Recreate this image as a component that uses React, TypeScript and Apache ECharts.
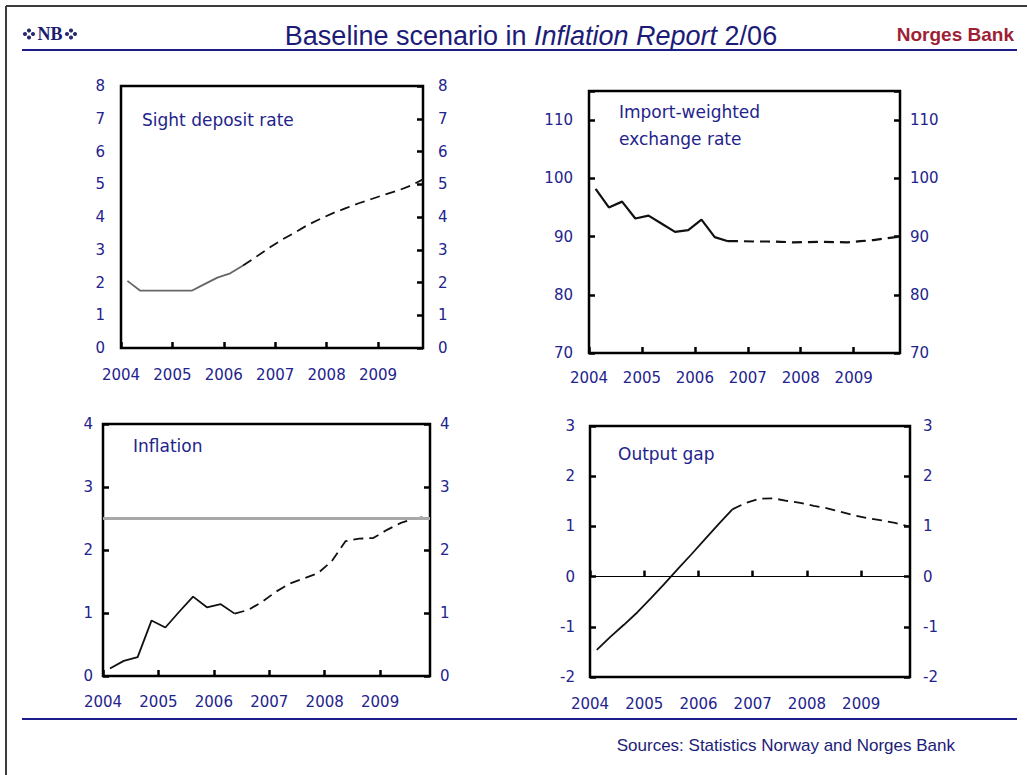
import React, { useEffect, useRef } from 'react';
import * as echarts from 'echarts';

// Quarterly observation dates (mid-quarter), 2004Q1 .. 2009Q4
const quarterDates = [
  2004.125, 2004.375, 2004.625, 2004.875,
  2005.125, 2005.375, 2005.625, 2005.875,
  2006.125, 2006.375, 2006.625, 2006.875,
  2007.125, 2007.375, 2007.625, 2007.875,
  2008.125, 2008.375, 2008.625, 2008.875,
  2009.125, 2009.375, 2009.625, 2009.875,
];

const sightDepositRate = [
  2.05, 1.75, 1.75, 1.75, 1.75, 1.75, 1.95, 2.15, 2.28, 2.52, 2.78, 3.05,
  3.3, 3.52, 3.75, 3.94, 4.12, 4.27, 4.42, 4.55, 4.68, 4.8, 4.95, 5.15,
];
const sightLastActual = 9;

const exchangeRate = [
  98.2, 95.0, 96.0, 93.1, 93.6, 92.2, 90.8, 91.1, 92.9, 89.9, 89.2, 89.2,
  89.15, 89.15, 89.1, 89.0, 89.05, 89.1, 89.05, 89.0, 89.2, 89.4, 89.7, 90.0,
];
const exchangeLastActual = 10;

const inflation = [
  0.12, 0.24, 0.3, 0.88, 0.77, 1.02, 1.26, 1.09, 1.14, 0.99, 1.05, 1.18,
  1.34, 1.47, 1.55, 1.63, 1.82, 2.14, 2.18, 2.19, 2.32, 2.43, 2.5, 2.53,
];
const inflationLastActual = 9;
const inflationTarget = 2.5;

const outputGap = [
  -1.46, -1.2, -0.96, -0.71, -0.43, -0.14, 0.16, 0.45, 0.75, 1.05, 1.34, 1.47,
  1.55, 1.56, 1.51, 1.47, 1.41, 1.36, 1.29, 1.22, 1.16, 1.12, 1.07, 1.0,
];
const outputGapLastActual = 10;

const panelTitles = ['Sight deposit rate', 'Import-weighted\nexchange rate', 'Inflation', 'Output gap'];
const yRanges = [
  { min: 0, max: 8, interval: 1 },
  { min: 70, max: 115, interval: 10 },
  { min: 0, max: 4, interval: 1 },
  { min: -2, max: 3, interval: 1 },
];

const NAVY = '#23238c';
const TITLE_NAVY = '#1c1c78';
const ARIAL = 'Liberation Sans, Arial, sans-serif';
const WIDE = 'DejaVu Sans, sans-serif';

function actualPart(values: number[], last: number) {
  return values.slice(0, last + 1).map((v, i) => [quarterDates[i], v]);
}
function projectionPart(values: number[], last: number) {
  return values.slice(last).map((v, i) => [quarterDates[i + last], v]);
}

export default function App() {
  const ref = useRef<HTMLDivElement>(null);
  useEffect(() => {
    if (!ref.current) return;
    const chart = echarts.init(ref.current, undefined, { renderer: 'svg' });

    const grids = [
      { left: 121, top: 86, width: 302, height: 262 },
      { left: 589, top: 91, width: 311, height: 262 },
      { left: 103, top: 424, width: 327, height: 252 },
      { left: 590, top: 426, width: 320, height: 251 },
    ];
    const xMax = [2009.875, 2009.875, 2009.9, 2009.9];
    const xMargins = [19, 17, 18, 19];
    const leftMargins = [16, 16, 10, 15];
    const rightMargins = [15, 10, 10, 13];

    const tickStyle = { show: true, inside: true, length: 6, lineStyle: { color: '#000', width: 2.5 } };

    const xAxis = grids.map((_, i) => ({
      type: 'value',
      gridIndex: i,
      min: 2004,
      max: xMax[i],
      interval: 1,
      axisLine: { show: false },
      axisTick: tickStyle,
      splitLine: { show: false },
      axisLabel: {
        margin: xMargins[i],
        color: NAVY,
        fontSize: 15,
        fontFamily: WIDE,
        formatter: (v: number) => (Number.isInteger(v) ? String(v) : ''),
        showMaxLabel: false,
      },
    }));

    const yAxis: any[] = [];
    grids.forEach((_, i) => {
      const r = yRanges[i];
      const fmt = (v: number) => ((v - r.min) % r.interval === 0 ? String(v) : '');
      yAxis.push({
        type: 'value', gridIndex: i, position: 'left', min: r.min, max: r.max, interval: r.interval,
        axisLine: { show: false },
        axisTick: i === 0 ? { show: false } : tickStyle,
        splitLine: { show: false },
        axisLabel: { margin: leftMargins[i], color: NAVY, fontSize: 15, fontFamily: WIDE, formatter: fmt },
      });
      yAxis.push({
        type: 'value', gridIndex: i, position: 'right', min: r.min, max: r.max, interval: r.interval,
        axisLine: { show: false },
        axisTick: tickStyle,
        splitLine: { show: false },
        axisLabel: { margin: rightMargins[i], color: NAVY, fontSize: 15, fontFamily: WIDE, formatter: fmt },
      });
    });

    const panels = [
      { values: sightDepositRate, last: sightLastActual, solidColor: '#666', width: 1.8 },
      { values: exchangeRate, last: exchangeLastActual, solidColor: '#111', width: 2.2 },
      { values: inflation, last: inflationLastActual, solidColor: '#111', width: 1.8 },
      { values: outputGap, last: outputGapLastActual, solidColor: '#111', width: 1.8 },
    ];

    const series: any[] = [];
    panels.forEach((p, i) => {
      const base: any = {
        type: 'line', xAxisIndex: i, yAxisIndex: i * 2, symbol: 'none', silent: true,
      };
      const solid: any = {
        ...base,
        name: 'actual' + i,
        data: actualPart(p.values, p.last),
        lineStyle: { color: p.solidColor, width: p.width, type: 'solid' },
        z: 3,
      };
      if (i === 2) {
        solid.markLine = {
          silent: true, symbol: 'none', label: { show: false },
          lineStyle: { color: '#a8a8a8', width: 3, type: 'solid' },
          data: [{ yAxis: inflationTarget }],
        };
      }
      if (i === 3) {
        solid.markLine = {
          silent: true, symbol: 'none', label: { show: false },
          lineStyle: { color: '#000', width: 1, type: 'solid' },
          data: [{ yAxis: 0 }],
        };
      }
      series.push(solid);
      series.push({
        ...base,
        name: 'projection' + i,
        data: projectionPart(p.values, p.last),
        lineStyle: { color: '#111', width: p.width, type: [10, 6] },
        z: 4,
      });
    });

    const titleTextStyle = { fontSize: 17, fontFamily: WIDE, fill: NAVY };
    const panelTitlePos = [
      { x: 142, y: 106.5 },
      { x: 619, y: 98.5 },
      { x: 133, y: 432.5 },
      { x: 618, y: 440 },
    ];

    const orn = (cx: number, cy: number) => ({
      type: 'circle', shape: { cx, cy, r: 2.1 }, style: { fill: '#2a2a70' },
    });

    const graphic: any[] = [
      { type: 'line', shape: { x1: 6, y1: 6, x2: 1027, y2: 6 }, style: { stroke: '#3c3c3c', lineWidth: 2 } },
      { type: 'line', shape: { x1: 6, y1: 6, x2: 6, y2: 775 }, style: { stroke: '#3c3c3c', lineWidth: 2 } },
      { type: 'line', shape: { x1: 22, y1: 50, x2: 1017, y2: 50 }, style: { stroke: '#1c1c8a', lineWidth: 2 } },
      { type: 'line', shape: { x1: 22, y1: 719, x2: 1017, y2: 719 }, style: { stroke: '#1c1c8a', lineWidth: 2 } },
      {
        type: 'text', x: 50, y: 34,
        style: { text: 'NB', fontSize: 18, fontWeight: 'bold', fontFamily: 'Liberation Serif, serif', fill: '#1c1c6e', align: 'center', verticalAlign: 'middle' },
      },
      orn(25, 34), orn(29, 30.5), orn(29, 37.5), orn(33, 34),
      orn(67, 34), orn(71, 30.5), orn(71, 37.5), orn(75, 34),
      {
        type: 'text', x: 531, y: 36,
        style: {
          text: '{a|Baseline scenario in }{b|Inflation Report}{a| 2/06}',
          align: 'center', verticalAlign: 'middle',
          rich: {
            a: { fontSize: 27, fontFamily: ARIAL, fill: TITLE_NAVY, color: TITLE_NAVY },
            b: { fontSize: 27, fontFamily: ARIAL, fontStyle: 'italic', fill: TITLE_NAVY, color: TITLE_NAVY },
          },
        },
      },
      {
        type: 'text', x: 1014, y: 34,
        style: { text: 'Norges Bank', fontSize: 19, fontWeight: 'bold', fontFamily: ARIAL, fill: '#9e1f36', align: 'right', verticalAlign: 'middle' },
      },
      {
        type: 'text', x: 955, y: 745,
        style: { text: 'Sources: Statistics Norway and Norges Bank', fontSize: 17, fontFamily: ARIAL, fill: TITLE_NAVY, align: 'right', verticalAlign: 'middle' },
      },
      ...panelTitles.map((t, i) => ({
        type: 'text', x: panelTitlePos[i].x, y: panelTitlePos[i].y, z: 10,
        style: { ...titleTextStyle, text: t, lineHeight: 27, align: 'left', verticalAlign: 'top' },
      })),
    ];

    chart.setOption({
      animation: false,
      backgroundColor: '#fff',
      grid: grids.map((g) => ({ ...g, show: true, borderColor: '#000', borderWidth: 2.5, backgroundColor: 'transparent' })),
      xAxis,
      yAxis,
      series,
      graphic,
    });
    return () => chart.dispose();
  }, []);
  return <div ref={ref} style={{ position: 'absolute', left: 0, top: 0, width: 1027, height: 775 }} />;
}
